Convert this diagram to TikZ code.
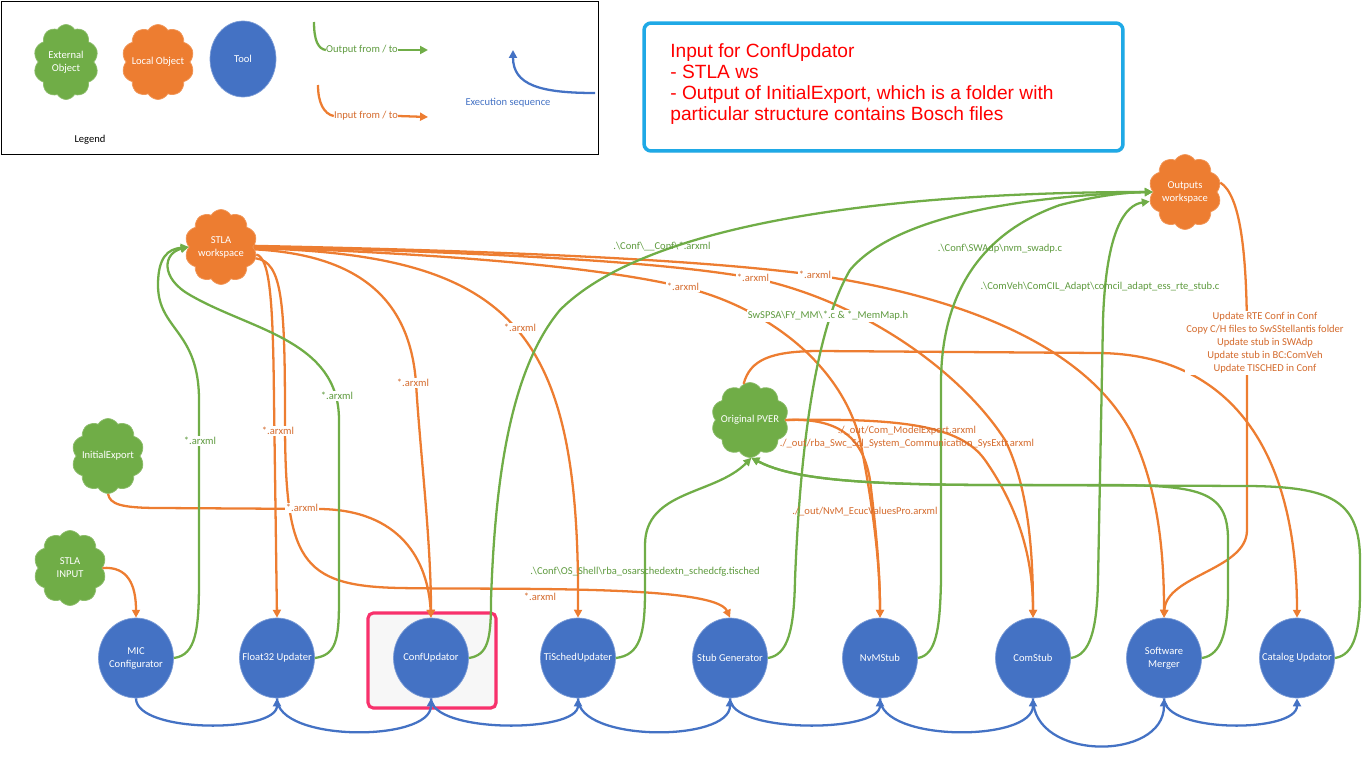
\documentclass[tikz,border=0pt]{standalone}
\usepackage{fontspec}
\setmainfont{Carlito}
\newfontfamily\notefont{Liberation Sans}
\usepackage{tikz}
\usetikzlibrary{shapes.symbols,shapes.geometric,arrows.meta,shadows}
\definecolor{ogreen}{HTML}{70AD47}
\definecolor{oorange}{HTML}{ED7D31}
\definecolor{oblue}{HTML}{4472C4}
\definecolor{gtxt}{HTML}{5E9A3E}
\definecolor{otxt}{HTML}{D46A2C}
\definecolor{notecyan}{HTML}{1FA9E6}
\definecolor{hilitered}{HTML}{F8316C}
\newcommand{\ctxt}[1]{\makebox[0pt]{#1}}

\begin{document}
\begin{tikzpicture}[x=0.02cm,y=-0.02cm,
  every node/.style={font=\fontsize{6}{7.4}\selectfont},
  tool/.style={ellipse,fill=oblue,draw=oblue!70!white,line width=0.4pt,text=white,align=center,minimum width=1.5cm,minimum height=1.6cm,inner sep=0pt},
  extobj/.style={cloud,cloud puffs=10,cloud puff arc=120,cloud ignores aspect,fill=ogreen,draw=ogreen!80!white,line width=0.4pt,text=white,align=center,minimum width=1.45cm,minimum height=1.5cm,inner sep=0pt},
  locobj/.style={extobj,fill=oorange,draw=oorange!80!white},
  arrowhd/.style={-{Triangle[length=4.5pt,width=4.5pt]}},
  outarr/.style={arrowhd,draw=ogreen,line width=1.3pt},
  inarr/.style={arrowhd,draw=oorange,line width=1.3pt},
  seqarr/.style={arrowhd,draw=oblue,line width=1.3pt},
  glbl/.style={text=gtxt,fill=white,inner sep=0.6pt,align=center},
  olbl/.style={text=otxt,fill=white,inner sep=0.6pt,align=center},
  gnote/.style={text=gtxt,inner sep=0.6pt,align=center},
  onote/.style={text=otxt,inner sep=0.6pt,align=center}]
  \useasboundingbox (0,0) rectangle (1365,761);

  \draw[line width=0.5pt] (1,1) rectangle (598,154);
  \node[extobj,minimum width=1.3cm] (legext) at (66,62) {\ctxt{External}\\\ctxt{Object}};
  \node[locobj] (legloc) at (158,62) {\ctxt{Local Object}};
  \node[tool,minimum width=1.32cm,minimum height=1.52cm] (legtool) at (243,59) {\ctxt{Tool}};
  \node[text=gtxt,inner sep=0pt] (legout) at (362,50) {Output from / to};
  \coordinate (legoutst) at (314,22);
  \draw[ogreen,line width=1.3pt] (legoutst) .. controls (314,40) and (318,49) .. (legout.west);
  \draw[outarr] (legout.east) -- (428,50);
  \node[text=otxt,inner sep=0pt] (legin) at (366,116) {Input from / to};
  \coordinate (leginst) at (318,85);
  \draw[oorange,line width=1.3pt] (leginst) .. controls (318,103) and (324,114) .. (legin.west);
  \draw[inarr] (legin.east) -- (428,117);
  \coordinate (legseqst) at (595,93);
  \coordinate (legseqend) at (513,50);
  \draw[seqarr] (legseqst) .. controls (540,93) and (513,85) .. (legseqend);
  \node[text=oblue] (legseq) at (508,103) {Execution sequence};
  \node (legtitle) at (90,140) {Legend};

  \node[draw=notecyan,line width=2pt,rounded corners=4pt,fill=white,minimum width=9.58cm,minimum height=2.56cm,drop shadow={opacity=0.25,shadow xshift=0.8pt,shadow yshift=-0.8pt}] (note) at (883.5,87) {};
  \node[anchor=north west,text=red,align=left,inner sep=0pt,font=\notefont\fontsize{10.9}{12}\selectfont] (notetxt) at (670,43) {Input for ConfUpdator\\- STLA ws\\- Output of InitialExport, which is a folder with\\particular structure contains Bosch files};

  \node[locobj] (stlaws) at (221,247) {\ctxt{STLA}\\\ctxt{workspace}};
  \node[locobj] (outws) at (1185,192) {\ctxt{Outputs}\\\ctxt{workspace}};
  \node[extobj] (initexp) at (108,456) {\ctxt{InitialExport}};
  \node[extobj] (stlainput) at (70,568) {\ctxt{STLA}\\\ctxt{INPUT}};
  \node[extobj,minimum width=1.55cm] (pver) at (750,420) {\ctxt{Original PVER}};

  \draw[hilitered,line width=1.8pt,rounded corners=3pt,fill=black!3,drop shadow={opacity=0.25,shadow xshift=0.8pt,shadow yshift=-0.8pt}] (368,613) rectangle (496,708);

  \node[tool] (mic) at (136,658) {\ctxt{MIC}\\\ctxt{Configurator}};
  \node[tool] (flt) at (277,658) {\ctxt{Float32 Updater}};
  \node[tool] (conf) at (431,658) {\ctxt{ConfUpdator}};
  \node[tool] (tisched) at (578,658) {\ctxt{TiSchedUpdater}};
  \node[tool] (stubgen) at (730,658) {\ctxt{Stub Generator}};
  \node[tool] (nvm) at (880,658) {\ctxt{NvMStub}};
  \node[tool] (com) at (1033,658) {\ctxt{ComStub}};
  \node[tool] (swm) at (1164,658) {\ctxt{Software}\\\ctxt{Merger}};
  \node[tool] (cat) at (1297,658) {\ctxt{Catalog Updator}};

  \draw[inarr] (stlainput.east) .. controls (128,566) and (136,585) .. (mic.north);
  \draw[inarr] (stlaws.-12) .. controls (270,258) and (273,300) .. (274,400) -- (flt.north);
  \draw[inarr] (stlaws.-18) .. controls (282,262) and (285,300) .. (285,420) .. controls (285,560) and (300,586) .. (400,588) .. controls (500,590) and (715,584) .. (stubgen.north);
  \draw[inarr] (stlaws.-4) .. controls (360,255) and (410,300) .. (416,383) .. controls (420,450) and (431,540) .. (conf.north);
  \draw[inarr] (initexp.south) .. controls (110,504) and (120,508) .. (160,508) -- (320,509) .. controls (400,510) and (428,560) .. (conf.north);
  \draw[inarr] (stlaws.-2) .. controls (515,255) and (580,330) .. (tisched.north);
  \draw[inarr] (stlaws.0) .. controls (500,256) and (620,272) .. (683,287) .. controls (760,305) and (840,360) .. (860,440) .. controls (872,500) and (880,560) .. (nvm.north);
  \draw[inarr] (stlaws.1) .. controls (550,254) and (680,265) .. (753,278) .. controls (860,300) and (960,370) .. (1005,440) .. controls (1030,490) and (1033,560) .. (com.north);
  \draw[inarr] (stlaws.2) .. controls (600,253) and (740,265) .. (815,275) .. controls (950,295) and (1080,340) .. (1130,430) .. controls (1160,490) and (1164,560) .. (swm.north);
  \draw[inarr] (outws.15) .. controls (1240,195) and (1247,250) .. (1247,340) -- (1247,530) .. controls (1247,570) and (1166,575) .. (swm.north);
  \draw[inarr] (pver.100) .. controls (750,360) and (770,351) .. (820,351) -- (1100,353) .. controls (1230,355) and (1297,450) .. (cat.north);
  \draw[inarr] (pver.east) .. controls (830,418) and (862,430) .. (870,480) .. controls (876,530) and (880,570) .. (nvm.north);
  \draw[inarr] (pver.east) .. controls (900,418) and (960,425) .. (985,460) .. controls (1020,510) and (1033,560) .. (com.north);

  \draw[outarr] (mic.east) .. controls (196,655) and (199,630) .. (199,580) -- (199,400) .. controls (199,330) and (158,330) .. (158,285) .. controls (158,257) and (168,249) .. (stlaws.west);
  \draw[outarr] (flt.east) .. controls (336,655) and (339,640) .. (339,600) -- (339,420) .. controls (339,340) and (250,330) .. (190,295) .. controls (160,278) and (163,253) .. (stlaws.west);
  \draw[outarr] (conf.east) .. controls (488,655) and (491,640) .. (491,600) .. controls (495,480) and (510,370) .. (560,310) .. controls (650,220) and (900,192) .. (outws.west);
  \draw[outarr] (tisched.east) .. controls (640,655) and (645,635) .. (645,590) -- (645,545) .. controls (645,490) and (715,495) .. (pver.-88);
  \draw[outarr] (stubgen.east) .. controls (788,655) and (794,630) .. (795,580) .. controls (800,450) and (815,330) .. (850,270) .. controls (900,210) and (1050,195) .. (outws.west);
  \draw[outarr] (nvm.east) .. controls (936,655) and (940,630) .. (941,580) -- (941,380) .. controls (942,300) and (975,235) .. (1060,205) .. controls (1100,195) and (1130,192) .. (outws.west);
  \draw[outarr] (com.east) .. controls (1090,655) and (1097,630) .. (1098,580) -- (1103,320) .. controls (1106,230) and (1125,205) .. (outws.-165);
  \draw[outarr] (swm.east) .. controls (1222,655) and (1228,630) .. (1228,590) -- (1228,540) .. controls (1228,490) and (1200,485) .. (1100,485) -- (1000,485) .. controls (850,485) and (790,478) .. (pver.-88);
  \draw[outarr] (cat.east) .. controls (1355,655) and (1360,630) .. (1360,590) -- (1360,560) .. controls (1360,500) and (1330,487) .. (1250,486) -- (1000,485) .. controls (850,485) and (790,478) .. (pver.-88);

  \draw[seqarr] (mic.south) .. controls +(0,35) and +(0,35) .. (flt.south);
  \draw[seqarr] (flt.south) .. controls +(0,44) and +(0,44) .. (conf.south);
  \draw[seqarr] (conf.south) .. controls +(0,35) and +(0,35) .. (tisched.south);
  \draw[seqarr] (tisched.south) .. controls +(0,44) and +(0,44) .. (stubgen.south);
  \draw[seqarr] (stubgen.south) .. controls +(0,35) and +(0,35) .. (nvm.south);
  \draw[seqarr] (nvm.south) .. controls +(0,44) and +(0,44) .. (com.south);
  \draw[seqarr] (com.south) .. controls +(0,63) and +(0,63) .. (swm.south);
  \draw[seqarr] (swm.south) .. controls +(0,35) and +(0,35) .. (cat.south);

  \node[glbl] (lmic) at (200,441) {*.arxml};
  \node[olbl] (lflt) at (278,431) {*.arxml};
  \node[glbl] (lfltout) at (337,396) {*.arxml};
  \node[olbl] (lconf) at (413,383) {*.arxml};
  \node[olbl] (linit) at (302,508) {*.arxml};
  \node[olbl] (ltisched) at (520,328) {*.arxml};
  \node[olbl] (lstubgen) at (540,597) {*.arxml};
  \node[gnote] (lconfout) at (662,246) {.\textbackslash Conf\textbackslash\_\_Conf\textbackslash *.arxml};
  \node[olbl] (lnvm) at (683,287) {*.arxml};
  \node[olbl] (lcom) at (753,278) {*.arxml};
  \node[olbl] (lswm) at (815,275) {*.arxml};
  \node[glbl] (lstubout) at (828,316) {SwSPSA\textbackslash FY\_MM\textbackslash *.c \& *\_MemMap.h};
  \node[gnote] (lnvmout) at (1000,249) {.\textbackslash Conf\textbackslash SWAdp\textbackslash nvm\_swadp.c};
  \node[gnote] (lcomout) at (1100,287) {.\textbackslash ComVeh\textbackslash ComCIL\_Adapt\textbackslash comcil\_adapt\_ess\_rte\_stub.c};
  \node[olbl] (lmerge) at (1265,343) {Update RTE Conf in Conf\\Copy C/H files to SwSStellantis folder\\Update stub in SWAdp\\Update stub in BC:ComVeh\\Update TISCHED in Conf};
  \node[onote] (lpvercom) at (907,437) {./\_out/Com\_ModelExport.arxml\\./\_out/rba\_Swc\_Scl\_System\_Communication\_SysExtr.arxml};
  \node[onote] (lpvernvm) at (865,512) {./\_out/NvM\_EcucValuesPro.arxml};
  \node[gnote] (ltischedout) at (645,572) {.\textbackslash Conf\textbackslash OS\_Shell\textbackslash rba\_osarschedextn\_schedcfg.tisched};
\end{tikzpicture}
\end{document}
